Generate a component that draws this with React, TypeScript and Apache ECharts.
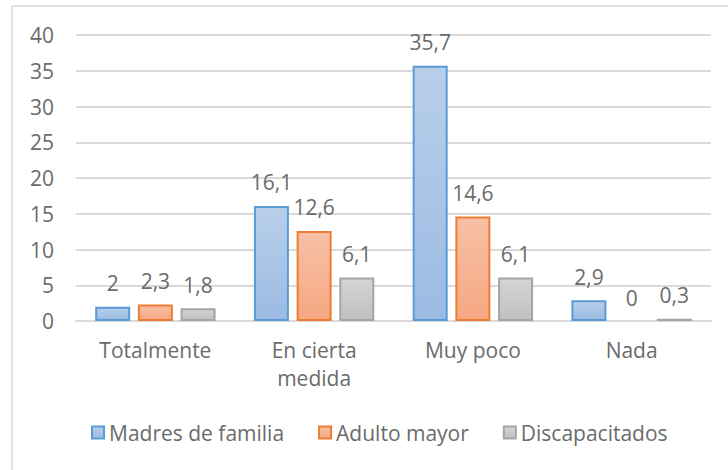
import React, { useEffect, useRef } from "react";
import * as echarts from "echarts";

const categories = ["Totalmente", "En cierta medida", "Muy poco", "Nada"];
const seriesNames = ["Madres de familia", "Adulto mayor", "Discapacitados"];
const madres = [2, 16.1, 35.7, 2.9];
const adulto = [2.3, 12.6, 14.6, 0];
const discap = [1.8, 6.1, 6.1, 0.3];
const yTicks = { min: 0, max: 40, interval: 5 };

const FONT = "Open Sans";
const TEXT = "#6b6b6b";
const FS = 21;

const grad = (top: string, bottom: string) =>
  new echarts.graphic.LinearGradient(0, 0, 0, 1, [
    { offset: 0, color: top },
    { offset: 1, color: bottom },
  ]);

const styles = [
  { fill: grad("#b8cfea", "#9bbbe3"), border: "#5b9bd5" },
  { fill: grad("#f8c0a6", "#f5a781"), border: "#ed7d31" },
  { fill: grad("#d4d4d4", "#c0c0c0"), border: "#a5a5a5" },
];

const fmt = (v: number) => String(v).replace(".", ",");

export default function App() {
  const ref = useRef<HTMLDivElement>(null);
  useEffect(() => {
    if (!ref.current) return;
    const chart = echarts.init(ref.current, undefined, { renderer: "svg" });
    const data = [madres, adulto, discap];
    chart.setOption({
      animation: false,
      backgroundColor: "#ffffff",
      textStyle: { fontFamily: FONT },
      graphic: [
        {
          type: "rect",
          shape: { x: 12, y: 6, width: 800, height: 600 },
          style: { fill: "none", stroke: "#d9d9d9", lineWidth: 1.5 },
          silent: true,
          z: -1,
        },
      ],
      grid: { left: 76, right: 17, top: 35, bottom: 149, containLabel: false },
      legend: {
        left: 91,
        top: 422,
        padding: 0,
        itemWidth: 12,
        itemHeight: 12,
        itemGap: 34,
        icon: "rect",
        textStyle: { color: TEXT, fontSize: FS, fontFamily: FONT },
        data: seriesNames,
      },
      xAxis: {
        type: "category",
        data: categories,
        axisLine: { show: true, lineStyle: { color: "#d9d9d9", width: 2 } },
        axisTick: { show: false },
        axisLabel: {
          color: TEXT,
          fontSize: FS,
          fontFamily: FONT,
          lineHeight: 28,
          margin: 15,
          interval: 0,
          formatter: (v: string) => (v.length > 12 ? v.replace(/ (?=[^ ]*$)/, "\n") : v),
        },
      },
      yAxis: {
        type: "value",
        min: yTicks.min,
        max: yTicks.max,
        interval: yTicks.interval,
        axisLine: { show: false },
        axisTick: { show: false },
        splitLine: { lineStyle: { color: "#d9d9d9", width: 2 } },
        axisLabel: { color: TEXT, fontSize: FS, fontFamily: FONT, margin: 22 },
      },
      series: seriesNames.map((name, i) => ({
        name,
        type: "bar",
        data: data[i].map((v) =>
          v === 0
            ? { value: v, itemStyle: { color: "rgba(0,0,0,0)", borderWidth: 0 } }
            : v
        ),
        barWidth: 35,
        barGap: "22%",
        itemStyle: {
          color: styles[i].fill,
          borderColor: styles[i].border,
          borderWidth: 2,
        },
        label: {
          show: true,
          position: "top",
          distance: 13,
          color: TEXT,
          fontSize: FS,
          fontFamily: FONT,
          formatter: (p: any) => fmt(p.value),
        },
      })),
    });
    return () => chart.dispose();
  }, []);
  return (
    <div
      ref={ref}
      style={{ position: "fixed", left: 0, top: 0, width: 728, height: 470 }}
    />
  );
}
